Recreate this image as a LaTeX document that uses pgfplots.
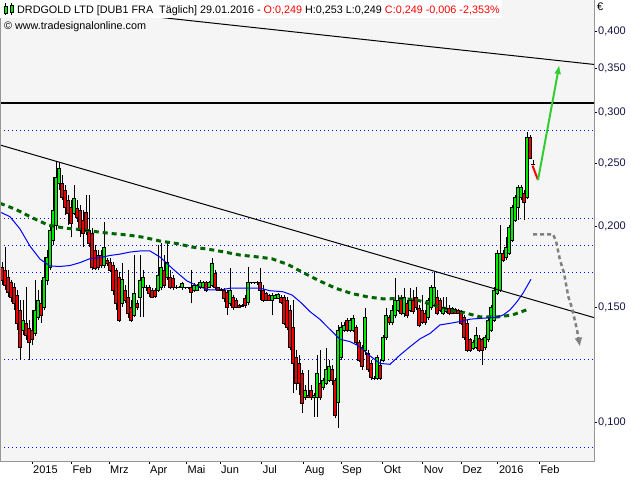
\documentclass[border=0pt]{standalone}
\usepackage{fontspec}
\setmainfont{Liberation Sans}
\usepackage{pgfplots}
\usepackage{pgfplotstable}
\pgfplotsset{compat=1.18}
\usetikzlibrary{arrows.meta}
\definecolor{cgreen}{RGB}{0,235,0}
\definecolor{cred}{RGB}{235,0,0}
\definecolor{mgreen}{RGB}{0,100,0}
\definecolor{bgc}{RGB}{245,245,245}
\definecolor{framec}{RGB}{150,150,150}
\definecolor{navy}{RGB}{20,20,70}
\definecolor{agreen}{RGB}{50,205,50}
\definecolor{agray}{RGB}{128,128,128}
\definecolor{hred}{RGB}{255,0,0}

\pgfplotstableread{
x o h l c
23 0.1386 0.1541 0.1361 0.1436
35 0.1371 0.1655 0.1356 0.1488
38 0.1451 0.1597 0.1436 0.1541
44 0.1504 0.1795 0.1488 0.1672
47 0.1655 0.1840 0.1626 0.1795
50 0.1733 0.2011 0.1714 0.1976
53 0.1907 0.2384 0.1873 0.2121
56 0.2011 0.2514 0.1976 0.2384
59 0.2334 0.2514 0.2277 0.2462
74 0.2098 0.2317 0.2083 0.2213
104 0.1745 0.2033 0.1726 0.1860
122 0.1525 0.1758 0.1504 0.1661
134 0.1461 0.1808 0.1451 0.1580
140 0.1558 0.1808 0.1451 0.1655
143 0.1609 0.1714 0.1451 0.1672
146 0.1609 0.1626 0.1592 0.1609
158 0.1597 0.1873 0.1586 0.1684
161 0.1614 0.1887 0.1597 0.1733
167 0.1672 0.1893 0.1655 0.1764
176 0.1614 0.1626 0.1603 0.1614
179 0.1614 0.1620 0.1609 0.1614
182 0.1609 0.1643 0.1597 0.1632
185 0.1609 0.1614 0.1603 0.1609
188 0.1609 0.1614 0.1603 0.1609
194 0.1597 0.1638 0.1586 0.1626
197 0.1597 0.1632 0.1592 0.1626
200 0.1614 0.1655 0.1603 0.1643
203 0.1614 0.1649 0.1609 0.1643
209 0.1614 0.1649 0.1609 0.1643
212 0.1626 0.1789 0.1614 0.1758
230 0.1525 0.1726 0.1509 0.1597
248 0.1530 0.1733 0.1514 0.1643
251 0.1638 0.1643 0.1632 0.1638
254 0.1638 0.1643 0.1632 0.1638
257 0.1638 0.1649 0.1626 0.1638
272 0.1541 0.1580 0.1461 0.1569
275 0.1552 0.1575 0.1547 0.1569
278 0.1552 0.1580 0.1547 0.1575
305 0.1092 0.1140 0.1081 0.1120
314 0.1092 0.1108 0.1018 0.1100
317 0.1092 0.1268 0.1018 0.1190
323 0.1132 0.1169 0.1120 0.1161
326 0.1148 0.1300 0.1140 0.1203
329 0.1161 0.1246 0.1153 0.1216
338 0.1073 0.1411 0.0979 0.1386
341 0.1259 0.1426 0.1246 0.1401
344 0.1386 0.1426 0.1376 0.1411
350 0.1386 0.1446 0.1376 0.1436
353 0.1386 0.1461 0.1376 0.1446
365 0.1291 0.1498 0.1268 0.1451
374 0.1169 0.1177 0.1161 0.1169
377 0.1169 0.1268 0.1161 0.1259
383 0.1246 0.1361 0.1237 0.1352
386 0.1352 0.1498 0.1338 0.1461
392 0.1426 0.1514 0.1411 0.1488
395 0.1461 0.1667 0.1446 0.1541
398 0.1488 0.1569 0.1478 0.1541
404 0.1472 0.1609 0.1451 0.1558
410 0.1488 0.1609 0.1478 0.1541
428 0.1451 0.1552 0.1436 0.1541
431 0.1504 0.1626 0.1488 0.1609
434 0.1514 0.1702 0.1504 0.1609
443 0.1472 0.1558 0.1461 0.1504
446 0.1478 0.1558 0.1472 0.1498
473 0.1300 0.1338 0.1291 0.1324
476 0.1305 0.1401 0.1296 0.1361
485 0.1305 0.1361 0.1291 0.1352
488 0.1338 0.1446 0.1328 0.1436
491 0.1386 0.1514 0.1376 0.1504
494 0.1436 0.1614 0.1426 0.1597
497 0.1580 0.1840 0.1569 0.1821
500 0.1597 0.2011 0.1586 0.1821
506 0.1795 0.1927 0.1776 0.1860
509 0.1821 0.2011 0.1808 0.1997
512 0.1907 0.2159 0.1893 0.2144
515 0.2047 0.2237 0.2033 0.2221
518 0.2144 0.2317 0.2047 0.2301
521 0.2221 0.2317 0.2197 0.2301
527 0.2221 0.2797 0.2205 0.2747
533 0.2490 0.2530 0.2490 0.2490
}\upt

\pgfplotstableread{
x o h l c
2 0.1733 0.1764 0.1626 0.1655
5 0.1714 0.1860 0.1597 0.1626
8 0.1672 0.1714 0.1558 0.1586
11 0.1638 0.1655 0.1530 0.1558
14 0.1609 0.1638 0.1488 0.1525
17 0.1569 0.1597 0.1386 0.1421
20 0.1488 0.1541 0.1246 0.1305
26 0.1421 0.1614 0.1338 0.1361
29 0.1396 0.1436 0.1246 0.1324
32 0.1386 0.1488 0.1314 0.1338
41 0.1525 0.1655 0.1421 0.1461
62 0.2334 0.2401 0.2197 0.2221
65 0.2277 0.2317 0.2083 0.2144
68 0.2197 0.2237 0.2011 0.2098
71 0.2144 0.2197 0.1927 0.2025
77 0.2136 0.2197 0.2033 0.2069
80 0.2121 0.2159 0.1927 0.1976
83 0.2047 0.2121 0.1860 0.1955
86 0.2106 0.2237 0.1941 0.1976
89 0.1976 0.2237 0.1860 0.1887
92 0.1955 0.1990 0.1714 0.1733
95 0.1840 0.1873 0.1714 0.1726
98 0.1808 0.1840 0.1714 0.1733
101 0.1808 0.1840 0.1726 0.1745
107 0.1776 0.1789 0.1739 0.1758
110 0.1764 0.1789 0.1702 0.1714
113 0.1745 0.1764 0.1569 0.1597
116 0.1714 0.1726 0.1488 0.1525
119 0.1672 0.1702 0.1426 0.1436
125 0.1597 0.1626 0.1525 0.1541
128 0.1558 0.1714 0.1446 0.1472
131 0.1504 0.1541 0.1426 0.1436
137 0.1525 0.1541 0.1488 0.1504
149 0.1609 0.1626 0.1558 0.1580
152 0.1597 0.1609 0.1552 0.1558
155 0.1597 0.1609 0.1552 0.1563
164 0.1714 0.1808 0.1609 0.1626
170 0.1672 0.1714 0.1603 0.1614
173 0.1667 0.1684 0.1597 0.1609
191 0.1614 0.1714 0.1525 0.1586
206 0.1638 0.1649 0.1586 0.1597
215 0.1696 0.1714 0.1597 0.1609
218 0.1609 0.1614 0.1592 0.1597
221 0.1603 0.1609 0.1592 0.1597
224 0.1597 0.1609 0.1530 0.1552
227 0.1586 0.1597 0.1461 0.1504
233 0.1558 0.1569 0.1488 0.1504
236 0.1541 0.1552 0.1498 0.1504
239 0.1514 0.1520 0.1498 0.1504
242 0.1514 0.1520 0.1504 0.1509
245 0.1552 0.1569 0.1498 0.1514
260 0.1638 0.1726 0.1541 0.1597
263 0.1597 0.1626 0.1530 0.1541
266 0.1580 0.1586 0.1536 0.1541
269 0.1569 0.1575 0.1536 0.1541
281 0.1558 0.1569 0.1520 0.1530
284 0.1558 0.1569 0.1411 0.1421
287 0.1541 0.1558 0.1386 0.1401
290 0.1488 0.1514 0.1291 0.1305
293 0.1401 0.1541 0.1108 0.1233
296 0.1259 0.1291 0.1120 0.1148
299 0.1233 0.1268 0.1100 0.1148
302 0.1190 0.1203 0.1033 0.1070
308 0.1100 0.1203 0.1089 0.1092
311 0.1120 0.1140 0.1081 0.1092
320 0.1148 0.1291 0.1081 0.1092
332 0.1203 0.1224 0.1140 0.1161
335 0.1161 0.1169 0.1014 0.1025
347 0.1436 0.1446 0.1376 0.1386
356 0.1401 0.1411 0.1314 0.1324
359 0.1324 0.1338 0.1237 0.1246
362 0.1305 0.1314 0.1203 0.1216
368 0.1277 0.1291 0.1194 0.1203
371 0.1233 0.1246 0.1161 0.1173
380 0.1224 0.1246 0.1161 0.1169
389 0.1451 0.1461 0.1411 0.1426
401 0.1552 0.1569 0.1461 0.1472
407 0.1525 0.1541 0.1446 0.1461
413 0.1541 0.1597 0.1467 0.1478
416 0.1558 0.1614 0.1488 0.1504
419 0.1498 0.1514 0.1401 0.1411
422 0.1488 0.1569 0.1416 0.1426
425 0.1472 0.1488 0.1411 0.1426
437 0.1558 0.1597 0.1461 0.1472
440 0.1541 0.1552 0.1478 0.1488
449 0.1498 0.1514 0.1461 0.1472
452 0.1498 0.1504 0.1467 0.1472
455 0.1493 0.1498 0.1467 0.1472
458 0.1488 0.1493 0.1467 0.1472
461 0.1478 0.1488 0.1411 0.1421
464 0.1451 0.1461 0.1338 0.1352
467 0.1421 0.1436 0.1282 0.1291
470 0.1338 0.1347 0.1282 0.1291
479 0.1347 0.1361 0.1282 0.1291
482 0.1338 0.1347 0.1224 0.1291
503 0.1821 0.1840 0.1764 0.1776
524 0.2253 0.2277 0.2047 0.2182
530 0.2747 0.2767 0.2540 0.2550
}\dnt

\begin{document}
\begin{tikzpicture}
\path[use as bounding box, fill=white] (0pt,0pt) rectangle (631pt,480pt);
\begin{axis}[
  at={(0pt,19pt)}, anchor=south west, scale only axis,
  width=594pt, height=461pt,
  xmin=0, xmax=594, ymode=log, ymin=0.08708, ymax=0.4466,
  axis line style={draw=none},
  axis background/.style={fill=bgc},
  xtick={32,71.5,109,149,186.5,220,261.6,303.6,341,382.7,422.7,461.4,497.8,539.3},
  xticklabels={2015,Feb,Mrz,Apr,Mai,Jun,Jul,Aug,Sep,Okt,Nov,Dez,2016,Feb},
  ytick={0.1,0.15,0.2,0.25,0.3,0.35,0.4},
  yticklabels={{0,100},{0,150},{0,200},{0,250},{0,300},{0,350},{0,400}},
  minor y tick num=0, minor x tick num=0,
  xtick pos=left, ytick pos=right, yticklabel pos=right,
  tick align=outside, major tick length=3pt,
  tick style={draw=black, line width=0.8pt},
  xticklabel style={anchor=north west, inner xsep=1pt, inner ysep=1.5pt, font=\fontsize{11}{12}\selectfont, text=black},
  yticklabel style={anchor=west, inner xsep=1pt, font=\fontsize{11}{12}\selectfont, text=navy},
  clip=true,
  candle/.style={draw=none, mark=none, forget plot, error bars/.cd, y dir=plus, y explicit, error mark=none},
]
% dotted support lines
\addplot[blue, line width=1pt, dash pattern=on 1.2pt off 2.8pt] coordinates {(0,0.2816) (594,0.2816)};
\addplot[blue, line width=1pt, dash pattern=on 1.2pt off 2.8pt] coordinates {(0,0.2059) (594,0.2059)};
\addplot[blue, line width=1pt, dash pattern=on 1.2pt off 2.8pt] coordinates {(0,0.1870) (594,0.1870)};
\addplot[blue, line width=1pt, dash pattern=on 1.2pt off 2.8pt] coordinates {(0,0.1700) (594,0.1700)};
\addplot[blue, line width=1pt, dash pattern=on 1.2pt off 2.8pt] coordinates {(0,0.1246) (594,0.1246)};
\addplot[blue, line width=1pt, dash pattern=on 1.2pt off 2.8pt] coordinates {(0,0.0912) (594,0.0912)};
% thick horizontal resistance
\addplot[black, line width=2pt] coordinates {(0,0.3096) (594,0.3096)};

% wicks
\addplot[candle, error bar style={draw=black, line width=1pt}] table[x=x, y=l, y error expr=\thisrow{h}-\thisrow{l}] {\upt};
\addplot[candle, error bar style={draw=black, line width=1pt}] table[x=x, y=l, y error expr=\thisrow{h}-\thisrow{l}] {\dnt};
% body outlines
\addplot[candle, error bar style={draw=black, line width=4pt}] table[x=x, y=o, y error expr=\thisrow{c}-\thisrow{o}] {\upt};
\addplot[candle, error bar style={draw=black, line width=4pt}] table[x=x, y=c, y error expr=\thisrow{o}-\thisrow{c}] {\dnt};
% body fills
\addplot[candle, error bar style={draw=cgreen, line width=2pt}] table[x=x, y=o, y error expr=\thisrow{c}-\thisrow{o}] {\upt};
\addplot[candle, error bar style={draw=cred, line width=2pt}] table[x=x, y=c, y error expr=\thisrow{o}-\thisrow{c}] {\dnt};
% top/bottom edges
\addplot[only marks, mark=-, mark size=2pt, mark options={draw=black, line width=0.8pt}] table[x=x, y=o] {\upt};
\addplot[only marks, mark=-, mark size=2pt, mark options={draw=black, line width=0.8pt}] table[x=x, y=c] {\upt};
\addplot[only marks, mark=-, mark size=2pt, mark options={draw=black, line width=0.8pt}] table[x=x, y=o] {\dnt};
\addplot[only marks, mark=-, mark size=2pt, mark options={draw=black, line width=0.8pt}] table[x=x, y=c] {\dnt};

% 200-day average (green dashed)
\addplot[mgreen, line width=3pt, dash pattern=on 5pt off 4pt] coordinates {
(0,0.2172) (16,0.2125) (32,0.2064) (48,0.2011) (64,0.1990) (80,0.1979) (96,0.1964)
(112,0.1951) (128,0.1941) (144,0.1925) (160,0.1900) (176,0.1884) (192,0.1860)
(208,0.1846) (224,0.1828) (240,0.1808) (256,0.1797) (272,0.1784) (288,0.1748)
(304,0.1696) (320,0.1648) (336,0.1606) (352,0.1577) (368,0.1558) (384,0.1547)
(400,0.1550) (416,0.1543) (432,0.1517) (448,0.1491) (464,0.1474) (480,0.1452)
(496,0.1451) (512,0.1461) (528,0.1491)};
% short average (blue)
\addplot[blue, line width=1pt] coordinates {
(0,0.2106) (10,0.2071) (20,0.1983) (30,0.1866) (40,0.1782) (50,0.1739) (60,0.1736)
(70,0.1742) (80,0.1760) (90,0.1785) (100,0.1792) (110,0.1805) (120,0.1814)
(130,0.1827) (140,0.1834) (150,0.1834) (160,0.1795) (173,0.1720) (187,0.1649)
(200,0.1614) (210,0.1597) (220,0.1597) (230,0.1607) (260,0.1607) (270,0.1593)
(283,0.1587) (292,0.1569) (300,0.1532) (310,0.1479) (320,0.1439) (327,0.1403)
(340,0.1341) (350,0.1330) (360,0.1306) (370,0.1264) (380,0.1231) (390,0.1227)
(400,0.1268) (410,0.1306) (420,0.1343) (430,0.1369) (440,0.1411) (450,0.1419)
(460,0.1428) (470,0.1440) (483,0.1445) (497,0.1450) (503,0.1461) (510,0.1488)
(517,0.1532) (523,0.1579) (531,0.1659)};

% trend lines
\addplot[black, line width=1pt] coordinates {(0,0.4466) (594,0.3554)};
\addplot[black, line width=1pt] coordinates {(0,0.2671) (594,0.1448)};

% scenario arrows
\addplot[hred, line width=2pt] coordinates {(532.5,0.2482) (538,0.2359)};
\addplot[agreen, line width=2pt, -{Latex[length=9pt,width=7pt]}] coordinates {(538,0.2359) (559.3,0.3547)};
\addplot[agray, line width=2.5pt, dash pattern=on 4pt off 3pt, -{Latex[length=9pt,width=8pt]}] coordinates {
(533,0.1946) (553,0.1946) (556,0.1900) (560,0.1776) (564,0.1696) (568.3,0.1560) (572,0.1498) (577,0.1386) (580,0.1306)};
\end{axis}
% frame
\draw[framec, line width=1pt] (0.5pt,480pt) -- (0.5pt,19pt) -- (594pt,19pt) -- (594pt,480pt);
% header
\fill[white] (0pt,462pt) rectangle (502pt,480pt);
\draw[black, line width=0.6pt] (5.5pt,465pt) -- (5.5pt,477pt);
\filldraw[fill=cgreen, draw=black, line width=0.6pt] (4pt,467pt) rectangle (7.5pt,474pt);
\draw[black, line width=0.6pt] (11.5pt,465pt) -- (11.5pt,477pt);
\filldraw[fill=cgreen, draw=black, line width=0.6pt] (10pt,468pt) rectangle (13.5pt,475pt);
\node[anchor=base west, inner sep=0pt, font=\fontsize{10.8}{12}\selectfont] at (17pt,466pt)
  {DRDGOLD LTD [DUB1 FRA\ \ Täglich] 29.01.2016 - \textcolor{hred}{O:0,249} H:0,253 L:0,249 \textcolor{hred}{C:0,249 -0,006 -2,353\%}};
\node[anchor=base west, inner sep=0pt, font=\fontsize{10.8}{12}\selectfont] at (4pt,450pt)
  {© www.tradesignalonline.com};
\node[anchor=base west, inner sep=0pt, font=\fontsize{11}{12}\selectfont] at (597pt,469pt) {€};
\end{tikzpicture}
\end{document}
